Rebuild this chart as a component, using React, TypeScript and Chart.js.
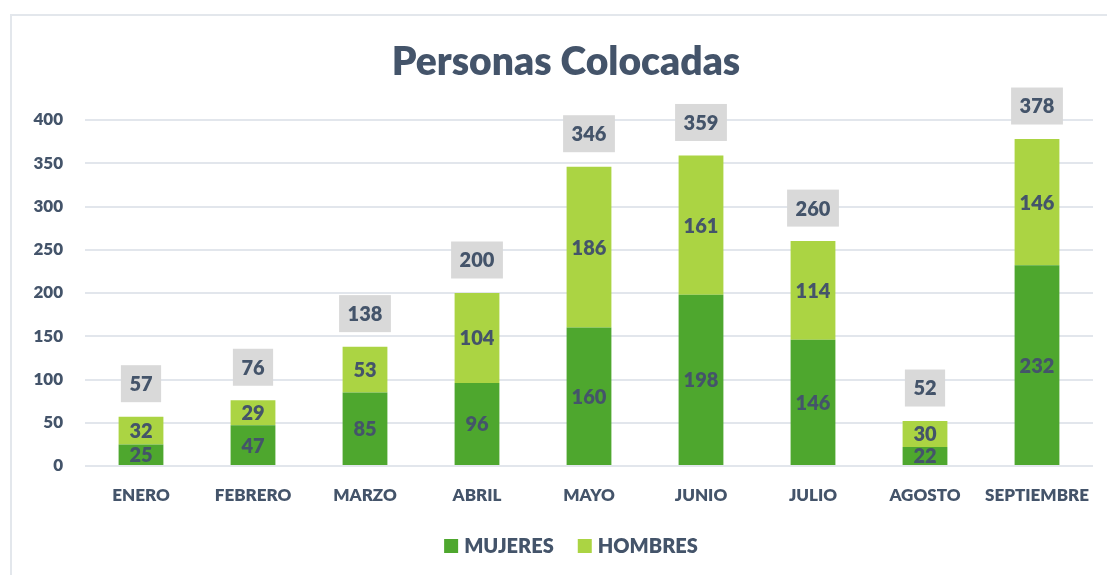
import React, { useEffect, useRef } from "react";
import { Chart, registerables } from "chart.js";

Chart.register(...registerables);

const categories = ["ENERO", "FEBRERO", "MARZO", "ABRIL", "MAYO", "JUNIO", "JULIO", "AGOSTO", "SEPTIEMBRE"];
const mujeres = [25, 47, 85, 96, 160, 198, 146, 22, 232];
const hombres = [32, 29, 53, 104, 186, 161, 114, 30, 146];
const totales = [57, 76, 138, 200, 346, 359, 260, 52, 378];
const yTicks = [0, 50, 100, 150, 200, 250, 300, 350, 400];
const titulo = "Personas Colocadas";

const TEXT = "#44546A";
const FONT = "Lato, 'Noto Sans', sans-serif";
const W = "800";

const labelPlugin = {
  id: "labelPlugin",
  afterDatasetsDraw(chart: any) {
    const ctx = chart.ctx;
    ctx.save();
    // title
    ctx.font = `${W} 39px ${FONT}`;
    ctx.textAlign = "center";
    ctx.textBaseline = "middle";
    ctx.fillStyle = TEXT;
    ctx.fillText(titulo, 566, 62);

    ctx.font = `${W} 20px ${FONT}`;
    chart.data.datasets.forEach((ds: any, di: number) => {
      const meta = chart.getDatasetMeta(di);
      meta.data.forEach((bar: any, i: number) => {
        const y = (bar.y + bar.base) / 2;
        ctx.fillStyle = TEXT;
        ctx.fillText(String(ds.data[i]), bar.x, y + 1);
      });
    });
    const top = chart.getDatasetMeta(1);
    const yScale = chart.scales.y;
    top.data.forEach((bar: any, i: number) => {
      const txt = String(totales[i]);
      const w = ctx.measureText(txt).width + 17;
      const h = 37;
      const cy = yScale.getPixelForValue(totales[i]) - 33;
      ctx.fillStyle = "#D9D9D9";
      ctx.fillRect(bar.x - w / 2, cy - h / 2, w, h);
      ctx.fillStyle = TEXT;
      ctx.fillText(txt, bar.x, cy + 1);
    });
    // legend
    ctx.font = `${W} 20px ${FONT}`;
    ctx.textAlign = "left";
    const items = chart.data.datasets.map((d: any) => ({ label: d.label, color: d.backgroundColor }));
    const box = 14, gapText = 6, gapItem = 24;
    const widths = items.map((it: any) => box + gapText + ctx.measureText(it.label).width);
    const total = widths.reduce((a: number, b: number) => a + b, 0) + gapItem * (items.length - 1);
    let x = 571 - total / 2;
    const cy = 546;
    items.forEach((it: any, i: number) => {
      ctx.fillStyle = it.color;
      ctx.fillRect(x, cy - box / 2, box, box);
      ctx.fillStyle = TEXT;
      ctx.fillText(it.label, x + box + gapText, cy + 1);
      x += widths[i] + gapItem;
    });
    ctx.restore();
  },
};

export default function App() {
  const ref = useRef<HTMLCanvasElement>(null);
  useEffect(() => {
    document.body.style.margin = "0";
    const chart = new Chart(ref.current!, {
      type: "bar",
      data: {
        labels: categories,
        datasets: [
          { label: "MUJERES", data: mujeres, backgroundColor: "#4EA72E", categoryPercentage: 0.4, barPercentage: 1 },
          { label: "HOMBRES", data: hombres, backgroundColor: "#ABD443", categoryPercentage: 0.4, barPercentage: 1 },
        ],
      },
      options: {
        animation: false,
        responsive: true,
        maintainAspectRatio: false,
        layout: { padding: { left: 0, right: 14, top: 120, bottom: 48 } },
        plugins: {
          title: { display: false },
          legend: { display: false },
          tooltip: { enabled: false },
        },
        scales: {
          x: {
            stacked: true,
            grid: { display: false },
            border: { display: false },
            ticks: { color: TEXT, font: { family: FONT, size: 17, weight: W }, padding: 11, maxRotation: 0 },
            afterFit: (s: any) => { s.height = 61; },
          },
          y: {
            stacked: true,
            min: 0,
            max: 400,
            afterBuildTicks: (s: any) => { s.ticks = yTicks.map((v) => ({ value: v })); },
            grid: { color: "#E2E6EC", lineWidth: 2, drawTicks: false },
            border: { display: false },
            ticks: { color: TEXT, font: { family: FONT, size: 17, weight: W }, padding: 22 },
            afterFit: (s: any) => { s.width = 85; },
          },
        },
      },
      plugins: [labelPlugin],
    });
    return () => chart.destroy();
  }, []);
  return (
    <div style={{ position: "relative", width: 1107, height: 575, background: "#fff", overflow: "hidden" }}>
      <div style={{ position: "absolute", left: 10, top: 14, width: 1200, height: 700, border: "2px solid #E3E7EC" }} />
      <div style={{ position: "absolute", left: 0, top: 0, width: 1107, height: 575 }}>
        <canvas ref={ref} />
      </div>
    </div>
  );
}
